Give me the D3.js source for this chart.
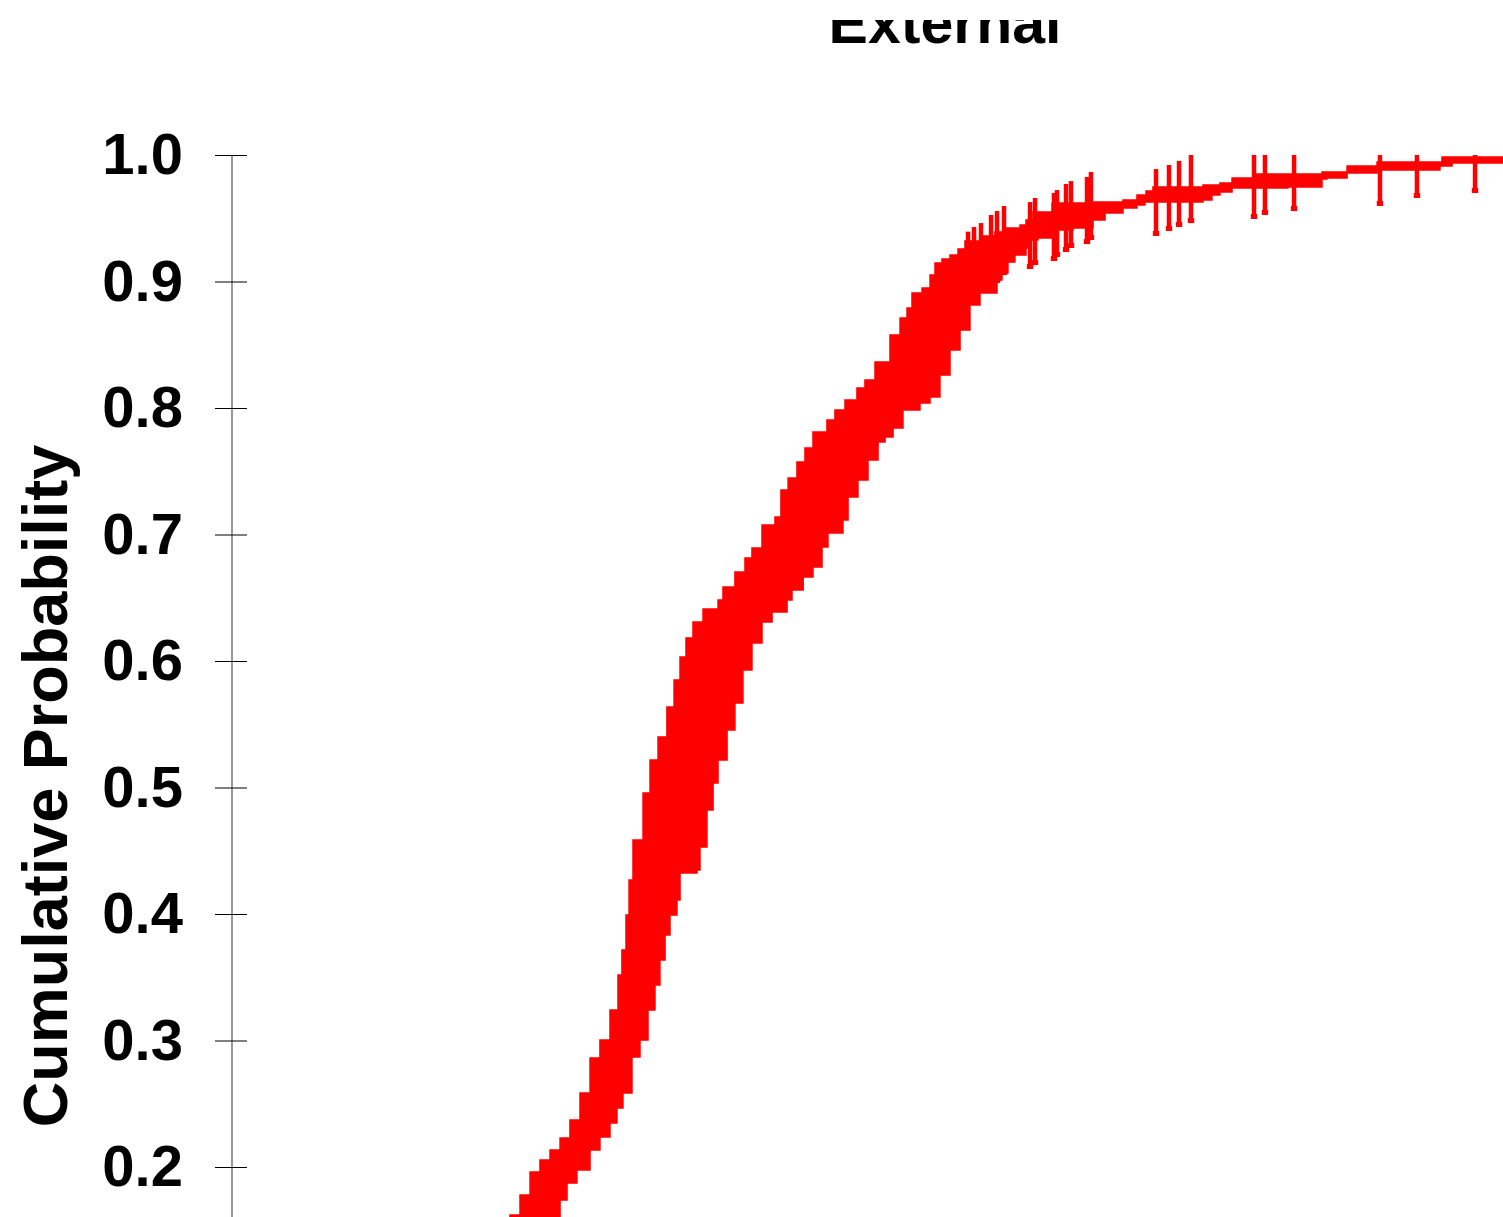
<!DOCTYPE html>
<html>
<head>
<meta charset="utf-8">
<script src="https://cdn.jsdelivr.net/npm/d3@7"></script>
<style>
  html, body { margin: 0; padding: 0; background: #fff; }
  svg { display: block; }
</style>
</head>
<body>
<svg id="chart" width="1503" height="1217"></svg>
<script>
// ---- chart text ----
const chartTitle = "External";
const yLabel = "Cumulative Probability";
const yTicks = [0.2, 0.3, 0.4, 0.5, 0.6, 0.7, 0.8, 0.9, 1.0];

// ---- upper confidence bound of the cumulative curve (step after) ----
const upperX = [21.09,21.87,22.66,23.45,24.23,25.02,25.81,26.59,27.38,28.17,28.95,29.74,30.37,30.68,31.00,31.24,31.55,32.34,32.89,33.52,34.22,34.78,35.25,35.72,36.27,37.06,38.24,38.63,39.57,40.36,40.91,41.70,42.72,43.19,43.75,44.45,45.08,45.71,46.81,47.44,48.23,49.17,49.80,50.59,51.77,52.56,53.11,53.50,54.29,54.92,55.31,55.86,56.49,57.12,57.67,58.85,60.03,60.90,62.00,62.47,63.02,64.52,67.82,70.10,71.20,71.91,72.46,76.40,77.73,78.68,80.33,85.76,87.73,90.09,95.20,100];
const upperP = [.1423,.1621,.1779,.1960,.2055,.2134,.2229,.2372,.2585,.2862,.3004,.3241,.3518,.3715,.3992,.4269,.4585,.4957,.5217,.5399,.5636,.5850,.6032,.6182,.6308,.6411,.6482,.6585,.6704,.6814,.6893,.7075,.7138,.7352,.7447,.7573,.7684,.7810,.7905,.7984,.8063,.8158,.8221,.8364,.8577,.8711,.8791,.8909,.8949,.9051,.9146,.9178,.9209,.9257,.9320,.9360,.9391,.9423,.9447,.9486,.9549,.9621,.9628,.9644,.9684,.9715,.9747,.9763,.9779,.9818,.9850,.9866,.9913,.9945,.9984,.9984];

// ---- lower confidence bound of the cumulative curve (step after) ----
const lowerX = [21.09,24.23,25.26,25.81,26.36,27.14,28.17,28.95,29.74,30.29,30.76,31.47,32.10,32.73,33.28,33.67,34.07,34.46,35.01,35.25,36.59,36.82,37.37,37.85,38.24,38.95,39.57,40.20,40.91,41.70,42.49,43.67,44.06,44.94,45.71,46.42,46.89,48.07,48.47,49.25,50.04,50.83,51.38,52.01,52.79,54.13,54.92,55.70,56.49,57.28,58.06,58.85,60.19,60.58,61.05,61.60,62.47,62.71,63.41,64.52,66.17,67.74,68.69,70.10,71.20,71.83,76.40,77.10,77.73,78.68,83.08,85.76,86.15,87.73,90.09,95.04,95.99,100];
const lowerP = [.1265,.1423,.1605,.1739,.1874,.1976,.2134,.2237,.2348,.2466,.2585,.2870,.3004,.3241,.3439,.3636,.3834,.3992,.4111,.4324,.4348,.4530,.4822,.5036,.5217,.5455,.5668,.5929,.6142,.6308,.6387,.6482,.6561,.6664,.6743,.6901,.7012,.7115,.7296,.7431,.7589,.7731,.7771,.7842,.7984,.8040,.8087,.8261,.8458,.8617,.8814,.8909,.9012,.9067,.9154,.9209,.9265,.9328,.9344,.9407,.9423,.9486,.9542,.9581,.9605,.9628,.9644,.9684,.9708,.9739,.9747,.9810,.9818,.9858,.9881,.9913,.9937,.9937];

// ---- individual error bars in the sparse upper tail ----
const barX  = [57.91,58.38,58.93,59.72,60.19,60.74,62.79,63.18,64.67,64.91,65.62,66.01,67.27,67.58,72.70,73.72,74.51,75.45,80.41,81.27,83.56,90.32,93.23,97.80];
const barLo = [.8854,.8893,.8917,.8933,.8988,.9051,.9099,.9130,.9162,.9194,.9233,.9265,.9296,.9328,.9360,.9399,.9431,.9462,.9494,.9526,.9557,.9597,.9660,.9700];
const barHi = [.9394,.9431,.9462,.9526,.9557,.9597,.9628,.9660,.9700,.9723,.9771,.9794,.9826,.9866,.9889,.9921,.9953,1,1,1,1,1,1,1];

// ---- layout ----
const W = 1503, H = 1217;
const FONT = "'Liberation Sans', Arial, Helvetica, sans-serif";
const RED = "#ff0000";

const svg = d3.select("#chart");

const x = d3.scaleLinear().domain([0, 100]).range([232, 1503]);
const y = d3.scaleLinear().domain([0, 1]).range([1420, 155]);

// title, trimmed at the top edge of the figure
svg.append("defs").append("clipPath").attr("id", "titleClip")
  .append("rect").attr("x", 0).attr("y", 20).attr("width", W).attr("height", 60);

svg.append("text")
  .attr("clip-path", "url(#titleClip)")
  .attr("x", 945).attr("y", 43)
  .attr("text-anchor", "middle")
  .attr("font-family", FONT).attr("font-weight", "bold").attr("font-size", 59)
  .attr("fill", "#000")
  .text(chartTitle);

// y axis
const axis = d3.axisLeft(y)
  .tickValues(yTicks)
  .tickFormat(d3.format(".1f"))
  .tickSizeInner(17)
  .tickSizeOuter(0)
  .tickPadding(32);

const gAxis = svg.append("g").attr("transform", "translate(232,0)").call(axis);
gAxis.select(".domain")
  .attr("d", `M0,${y(1)}V${H + 10}`)
  .attr("stroke", "#808080").attr("stroke-width", 1.6);
gAxis.selectAll(".tick line").attr("x1", 15).attr("stroke", "#000").attr("stroke-width", 1);
gAxis.selectAll(".tick text")
  .attr("font-family", FONT).attr("font-weight", "bold").attr("font-size", 58)
  .attr("fill", "#000");

// y axis title
svg.append("text")
  .attr("transform", "translate(67,786) rotate(-90)")
  .attr("text-anchor", "middle")
  .attr("font-family", FONT).attr("font-weight", "bold").attr("font-size", 63)
  .attr("fill", "#000")
  .text(yLabel);

// confidence band: upper bound forward, lower bound back
function stepPoints(xs, ps) {
  const pts = [];
  xs.forEach((xv, i) => {
    if (i > 0) pts.push([xv, ps[i - 1]]);
    pts.push([xv, ps[i]]);
  });
  return pts;
}
const bandPts = stepPoints(upperX, upperP).concat(stepPoints(lowerX, lowerP).reverse());
const line = d3.line().x(d => x(d[0])).y(d => y(d[1]));

svg.append("path")
  .attr("d", line(bandPts) + "Z")
  .attr("fill", RED)
  .attr("stroke", RED)
  .attr("stroke-width", 1.5);

// error bars, each with a slightly wider foot at its lower end
const bars = barX.map((v, i) => ({ x: v, lo: barLo[i], hi: barHi[i] }));
const gBars = svg.append("g");
gBars.selectAll("line")
  .data(bars)
  .join("line")
  .attr("x1", d => x(d.x)).attr("x2", d => x(d.x))
  .attr("y1", d => y(d.hi)).attr("y2", d => y(d.lo))
  .attr("stroke", RED)
  .attr("stroke-width", 4.5);
gBars.selectAll("rect")
  .data(bars)
  .join("rect")
  .attr("x", d => x(d.x) - 3.2)
  .attr("y", d => y(d.lo) - 5)
  .attr("width", 6.4)
  .attr("height", 5)
  .attr("fill", RED);
</script>
</body>
</html>
